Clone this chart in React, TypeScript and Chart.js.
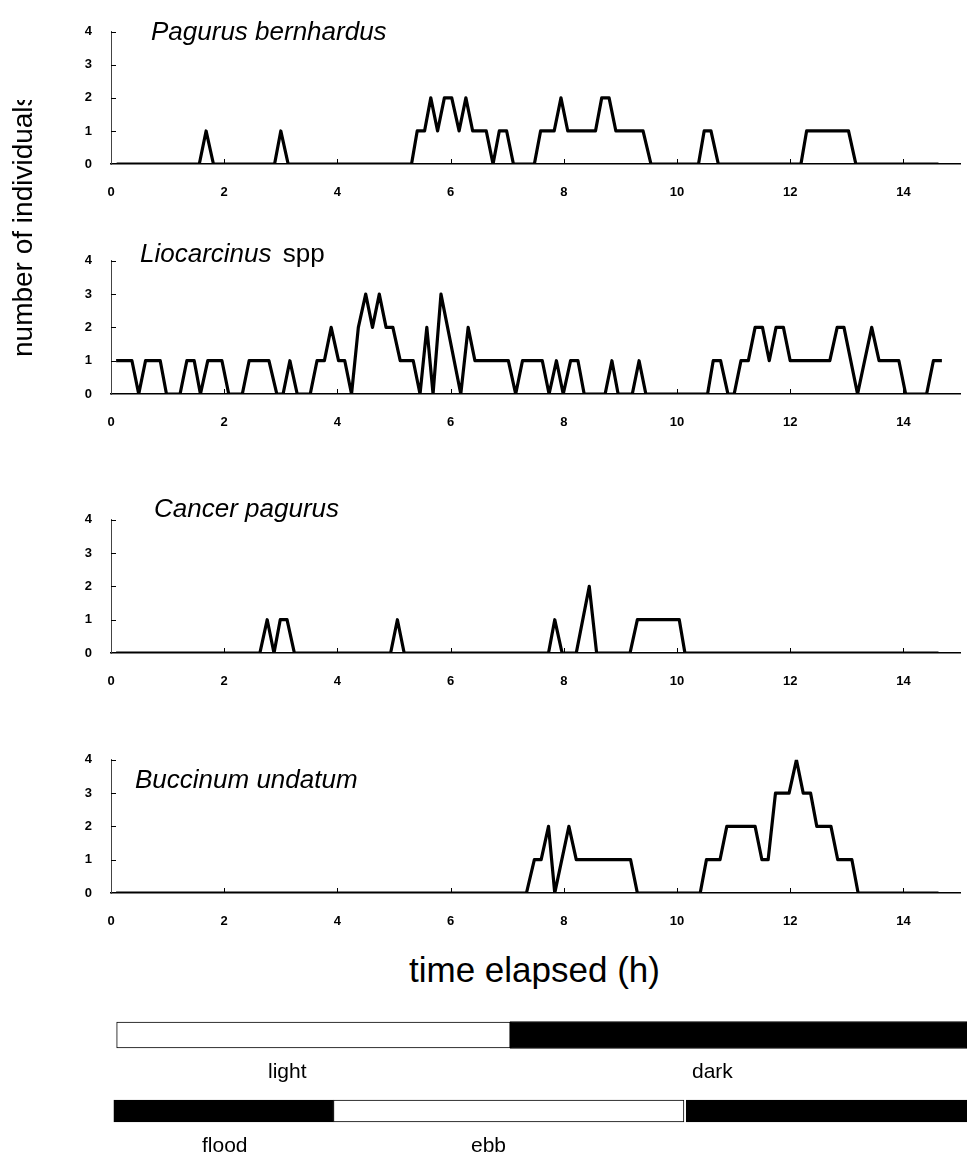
import React, { useEffect, useRef } from "react";
import { Chart, registerables } from "chart.js";

Chart.register(...registerables);

const FONT = "'Liberation Sans', Arial, Helvetica, sans-serif";

// ---------- data (time in hours, counts of individuals) ----------
const pagurusTimes = [0.1, 1.56, 1.68, 1.81, 2.89, 3.0, 3.13, 5.31, 5.41, 5.54, 5.65, 5.77, 5.89, 6.02, 6.15, 6.27, 6.39, 6.63, 6.75, 6.86, 6.99, 7.11, 7.48, 7.59, 7.83, 7.95, 8.07, 8.56, 8.67, 8.8, 8.92, 9.4, 9.54, 10.38, 10.48, 10.6, 10.73, 12.19, 12.29, 13.03, 13.16, 14.62];
const pagurusCounts = [0, 0, 1, 0, 0, 1, 0, 0, 1, 1, 2, 1, 2, 2, 1, 2, 1, 1, 0, 1, 1, 0, 0, 1, 1, 2, 1, 1, 2, 2, 1, 1, 0, 0, 1, 1, 0, 0, 1, 1, 0, 0];

const liocarcinusTimes = [0.09, 0.37, 0.49, 0.61, 0.87, 0.98, 1.22, 1.34, 1.47, 1.58, 1.71, 1.96, 2.08, 2.32, 2.44, 2.79, 2.93, 3.04, 3.16, 3.29, 3.52, 3.64, 3.77, 3.89, 4.02, 4.13, 4.25, 4.37, 4.5, 4.62, 4.74, 4.86, 4.98, 5.11, 5.34, 5.46, 5.58, 5.69, 5.83, 6.18, 6.31, 6.43, 7.02, 7.15, 7.27, 7.62, 7.74, 7.87, 7.99, 8.12, 8.25, 8.36, 8.73, 8.85, 8.96, 9.21, 9.33, 9.45, 10.54, 10.64, 10.77, 10.9, 11.01, 11.13, 11.26, 11.38, 11.51, 11.63, 11.75, 11.88, 12.0, 12.7, 12.83, 12.95, 13.19, 13.44, 13.57, 13.92, 14.04, 14.41, 14.53, 14.68];
const liocarcinusCounts = [1, 1, 0, 1, 1, 0, 0, 1, 1, 0, 1, 1, 0, 0, 1, 1, 0, 0, 1, 0, 0, 1, 1, 2, 1, 1, 0, 2, 3, 2, 3, 2, 2, 1, 1, 0, 2, 0, 3, 0, 2, 1, 1, 0, 1, 1, 0, 1, 0, 1, 1, 0, 0, 1, 0, 0, 1, 0, 0, 1, 1, 0, 0, 1, 1, 2, 2, 1, 2, 2, 1, 1, 2, 2, 0, 2, 1, 1, 0, 0, 1, 1];

const cancerTimes = [0.09, 2.63, 2.76, 2.88, 2.99, 3.11, 3.24, 4.94, 5.06, 5.18, 7.73, 7.84, 7.97, 8.22, 8.45, 8.58, 9.17, 9.3, 10.04, 10.14, 14.62];
const cancerCounts = [0, 0, 1, 0, 1, 1, 0, 0, 1, 0, 0, 1, 0, 0, 2, 0, 0, 1, 1, 0, 0];

const buccinumTimes = [0.09, 7.34, 7.48, 7.6, 7.73, 7.84, 8.09, 8.22, 9.18, 9.3, 10.41, 10.52, 10.76, 10.88, 11.38, 11.5, 11.61, 11.74, 11.98, 12.11, 12.23, 12.36, 12.47, 12.72, 12.84, 13.09, 13.2, 14.62];
const buccinumCounts = [0, 0, 1, 1, 2, 0, 2, 1, 1, 0, 0, 1, 1, 2, 2, 1, 1, 3, 3, 4, 3, 3, 2, 2, 1, 1, 0, 0];

// axis ranges
const xMin = 0;
const xMax = 15;
const xStep = 2;
const yMin = 0;
const yMax = 4;
const yStep = 1;

// light/dark and tide bars (hours)
const barRows = ["light / dark", "flood / ebb"];
const lightSpan = [0.1, 7.05];
const darkSpan = [7.05, 15.12];
const floodSpan1 = [0.05, 3.93];
const ebbSpan = [3.93, 10.12];
const floodSpan2 = [10.16, 15.12];
const barsMax = 15.12;

// ---------- helpers ----------
const inwardTicks = {
  id: "inwardTicks",
  beforeDatasetsDraw(chart: any) {
    const { ctx } = chart;
    const xs = chart.scales.x;
    const ys = chart.scales.y;
    ctx.save();
    ctx.strokeStyle = "#000";
    ctx.lineWidth = 1;
    ctx.beginPath();
    xs.ticks.forEach((t: any) => {
      if (t.value === 0) return;
      const px = Math.round(xs.getPixelForValue(t.value)) + 0.5;
      ctx.moveTo(px, ys.bottom);
      ctx.lineTo(px, ys.bottom - 5);
    });
    ys.ticks.forEach((t: any) => {
      if (t.value === 0) return;
      const py = Math.round(ys.getPixelForValue(t.value)) + 0.5;
      ctx.moveTo(xs.left, py);
      ctx.lineTo(xs.left + 5, py);
    });
    ctx.stroke();
    ctx.restore();
  },
};

type PanelProps = {
  times: number[];
  counts: number[];
  top4: number;
  y0: number;
};

const PAD_TOP = 10;
const X_AXIS_H = 40;
const Y_AXIS_W = 111;

function Panel({ times, counts, top4, y0 }: PanelProps) {
  const ref = useRef<HTMLCanvasElement | null>(null);
  const height = PAD_TOP + (y0 - top4) + X_AXIS_H;
  useEffect(() => {
    if (!ref.current) return;
    const points = times.map((t, i) => ({ x: t, y: counts[i] }));
    const chart = new Chart(ref.current, {
      type: "line",
      data: {
        datasets: [
          {
            data: points,
            borderColor: "#000",
            borderWidth: 3.2,
            pointRadius: 0,
            tension: 0,
            borderJoinStyle: "round",
            borderCapStyle: "butt",
            fill: false,
          },
        ],
      },
      options: {
        animation: false,
        responsive: false,
        events: [],
        layout: { padding: { top: PAD_TOP, right: 7, left: 0, bottom: 0 } },
        plugins: { legend: { display: false }, tooltip: { enabled: false } },
        scales: {
          x: {
            type: "linear",
            min: xMin,
            max: xMax,
            grid: { display: false, drawTicks: false },
            border: { display: true, color: "#000", width: 1.5 },
            ticks: {
              stepSize: xStep,
              includeBounds: false,
              padding: 21,
              maxRotation: 0,
              color: "#000",
              font: { family: FONT, size: 13, weight: "bold" },
            },
            afterFit: (s: any) => {
              s.height = X_AXIS_H;
            },
          },
          y: {
            type: "linear",
            min: yMin,
            max: yMax,
            grid: { display: false, drawTicks: false },
            border: { display: true, color: "#444", width: 1 },
            ticks: {
              stepSize: yStep,
              padding: 19,
              color: "#000",
              font: { family: FONT, size: 13, weight: "bold" },
            },
            afterFit: (s: any) => {
              s.width = Y_AXIS_W;
            },
          },
        },
      },
      plugins: [inwardTicks],
    } as any);
    return () => chart.destroy();
  }, [times, counts, top4, y0]);
  return (
    <canvas
      ref={ref}
      width={967}
      height={height}
      style={{ position: "absolute", left: 0, top: top4 - PAD_TOP, width: 967, height }}
    />
  );
}

function Bars() {
  const ref = useRef<HTMLCanvasElement | null>(null);
  useEffect(() => {
    if (!ref.current) return;
    const common = { grouped: false, borderSkipped: false, borderColor: "#000", borderWidth: 1 };
    const chart = new Chart(ref.current, {
      type: "bar",
      data: {
        labels: barRows,
        datasets: [
          { ...common, label: "light", data: [lightSpan, null], backgroundColor: "#fff", barThickness: 26 },
          { ...common, label: "dark", data: [darkSpan, null], backgroundColor: "#000", barThickness: 27 },
          { ...common, label: "flood", data: [null, floodSpan1], backgroundColor: "#000", barThickness: 22 },
          { ...common, label: "ebb", data: [null, ebbSpan], backgroundColor: "#fff", barThickness: 22 },
          { ...common, label: "flood", data: [null, floodSpan2], backgroundColor: "#000", barThickness: 22 },
        ],
      },
      options: {
        animation: false,
        responsive: false,
        events: [],
        indexAxis: "y",
        layout: { padding: { left: Y_AXIS_W, right: 0, top: 0, bottom: 0 } },
        plugins: { legend: { display: false }, tooltip: { enabled: false } },
        scales: {
          x: { type: "linear", min: 0, max: barsMax, display: false },
          y: { type: "category", display: false, offset: true },
        },
      },
    } as any);
    return () => chart.destroy();
  }, []);
  return (
    <canvas
      ref={ref}
      width={967}
      height={152}
      style={{ position: "absolute", left: 0, top: 997, width: 967, height: 152 }}
    />
  );
}

// text positioned by baseline (line-height 1)
function Txt({
  x,
  baseline,
  size,
  italic,
  children,
}: {
  x: number;
  baseline: number;
  size: number;
  italic?: boolean;
  children: React.ReactNode;
}) {
  return (
    <div
      style={{
        position: "absolute",
        left: x,
        top: baseline - 0.8465 * size,
        fontFamily: FONT,
        fontSize: size,
        lineHeight: `${size}px`,
        fontStyle: italic ? "italic" : "normal",
        whiteSpace: "nowrap",
        color: "#000",
      }}
    >
      {children}
    </div>
  );
}

export default function App() {
  return (
    <div
      style={{
        position: "absolute",
        left: 0,
        top: 0,
        width: 967,
        height: 1161,
        background: "#fff",
        overflow: "hidden",
      }}
    >
      <Panel times={pagurusTimes} counts={pagurusCounts} top4={15} y0={164} />
      <Panel times={liocarcinusTimes} counts={liocarcinusCounts} top4={244} y0={394} />
      <Panel times={cancerTimes} counts={cancerCounts} top4={503} y0={653} />
      <Panel times={buccinumTimes} counts={buccinumCounts} top4={743} y0={893} />
      <Bars />

      <Txt x={151} baseline={40} size={26} italic>
        Pagurus bernhardus
      </Txt>
      <Txt x={140} baseline={262} size={26}>
        <i>Liocarcinus</i>
        <span style={{ marginLeft: 4 }}> spp</span>
      </Txt>
      <Txt x={154} baseline={517} size={26} italic>
        Cancer pagurus
      </Txt>
      <Txt x={135} baseline={788} size={26} italic>
        Buccinum undatum
      </Txt>

      {/* y-axis title, clipped at the top like the original */}
      <div
        style={{
          position: "absolute",
          left: 0,
          top: 100,
          width: 60,
          height: 300,
          overflow: "hidden",
        }}
      >
        <div
          style={{
            position: "absolute",
            left: 9,
            top: 257,
            fontFamily: FONT,
            fontSize: 28,
            lineHeight: "28px",
            whiteSpace: "nowrap",
            transformOrigin: "0 0",
            transform: "rotate(-90deg)",
            color: "#000",
          }}
        >
          number of individuals
        </div>
      </div>

      <Txt x={409} baseline={982} size={35}>
        time elapsed (h)
      </Txt>

      <Txt x={268} baseline={1078} size={21}>
        light
      </Txt>
      <Txt x={692} baseline={1078} size={21}>
        dark
      </Txt>
      <Txt x={202} baseline={1152} size={21}>
        flood
      </Txt>
      <Txt x={471} baseline={1152} size={21}>
        ebb
      </Txt>
    </div>
  );
}
